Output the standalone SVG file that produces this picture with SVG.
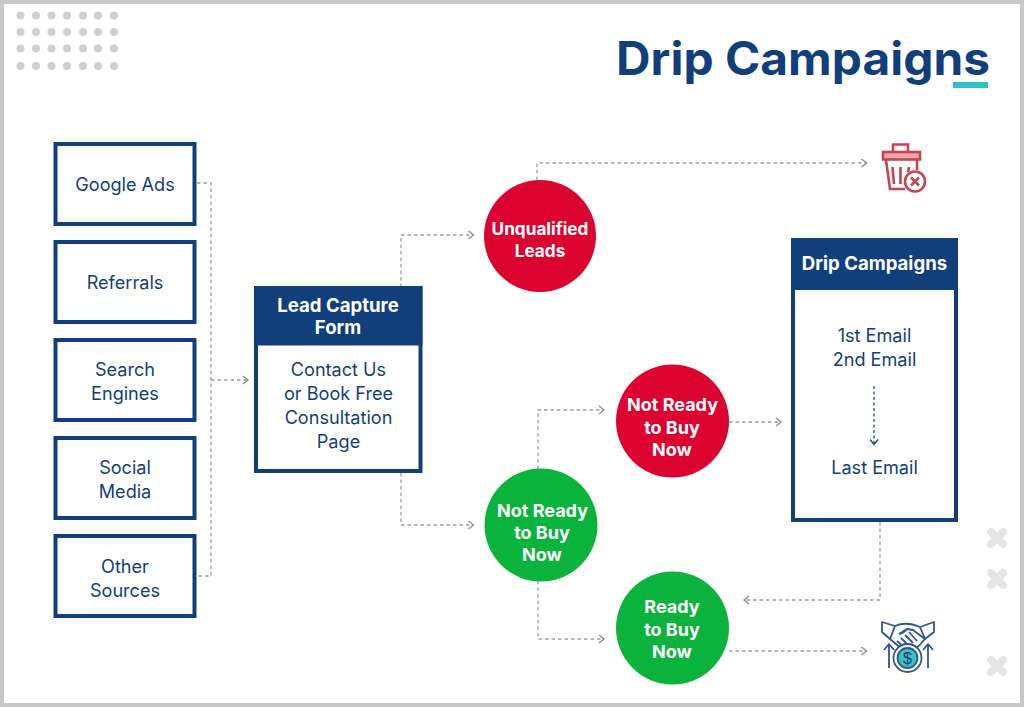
<svg xmlns="http://www.w3.org/2000/svg" width="1024" height="707" viewBox="0 0 1024 707">
<style>
text{font-family:"Inter","Liberation Sans",sans-serif;text-anchor:middle}
.b{fill:#fff;stroke:#113f7c;stroke-width:4}
.h{fill:#113f7c}
.t{font-size:18.1px;fill:#113f7c;font-weight:400}
.w{font-size:18px;fill:#fff;font-weight:700}
.k{font-size:18.600px;fill:#fff;font-weight:700}
.c{fill:none;stroke:#9d9d9d;stroke-width:1.3;stroke-dasharray:3.5 3}
.d{fill:#cfcfcf}
.x{stroke:#e3e5e6;stroke-width:8;stroke-linecap:round}
.r{fill:#dd0330}
.g{fill:#0ab33c}
.i{fill:none;stroke:#c5444f;stroke-width:2.600}
.m{fill:none;stroke:#2d5793;stroke-width:1.800;stroke-linejoin:round}
</style>
<defs>
<marker id="a" markerWidth="10" markerHeight="12" refX="6" refY="5" orient="auto" markerUnits="userSpaceOnUse"><path d="M1 1L6 5L1 9" fill="none" stroke="#8d8d8d" stroke-width="1.4"/></marker>
<marker id="n" markerWidth="10" markerHeight="10" refX="4.5" refY="6" orient="auto-start-reverse" markerUnits="userSpaceOnUse"><path d="M1 1L6 5L1 9" fill="none" stroke="#113f7c" stroke-width="1.3" transform="translate(0 1)"/></marker>
</defs>
<rect x="2" y="2" width="1020" height="703" fill="#fff" stroke="#c8c8c8" stroke-width="4"/>
<g id="dots" class="d">
<circle cx="20.5" cy="15.5" r="4"/><circle cx="36" cy="15.5" r="4"/><circle cx="51.5" cy="15.5" r="4"/><circle cx="67" cy="15.5" r="4"/><circle cx="83" cy="15.5" r="4"/><circle cx="98" cy="15.5" r="4"/><circle cx="114" cy="15.5" r="4"/>
<circle cx="20.5" cy="32" r="4"/><circle cx="36" cy="32" r="4"/><circle cx="51.5" cy="32" r="4"/><circle cx="67" cy="32" r="4"/><circle cx="83" cy="32" r="4"/><circle cx="98" cy="32" r="4"/><circle cx="114" cy="32" r="4"/>
<circle cx="20.5" cy="48.5" r="4"/><circle cx="36" cy="48.5" r="4"/><circle cx="51.5" cy="48.5" r="4"/><circle cx="67" cy="48.5" r="4"/><circle cx="83" cy="48.5" r="4"/><circle cx="98" cy="48.5" r="4"/><circle cx="114" cy="48.5" r="4"/>
<circle cx="20.5" cy="66" r="4"/><circle cx="36" cy="66" r="4"/><circle cx="51.5" cy="66" r="4"/><circle cx="67" cy="66" r="4"/><circle cx="83" cy="66" r="4"/><circle cx="98" cy="66" r="4"/><circle cx="114" cy="66" r="4"/>
</g>
<g id="crosses" class="x">
<path d="M991 532L1003 544M1003 532L991 544"/><path d="M991 573L1003 585M1003 573L991 585"/><path d="M991 660L1003 672M1003 660L991 672"/>
</g>
<g id="title">
<text x="803" y="75" font-size="46" font-weight="700" fill="#113f7c" textLength="374" lengthAdjust="spacingAndGlyphs">Drip Campaigns</text>
<rect x="953" y="82" width="35" height="6" fill="#2fc0c6"/>
</g>
<g id="connectors">
<path class="c" d="M197 183H211V576H197"/>
<path class="c" d="M211 380H248" marker-end="url(#a)"/>
<path class="c" d="M401 287V235H473.500" marker-end="url(#a)"/>
<path class="c" d="M401 473V525H473.500" marker-end="url(#a)"/>
<path class="c" d="M537 180V163H866.500" marker-end="url(#a)"/>
<path class="c" d="M538 469V410H604" marker-end="url(#a)"/>
<path class="c" d="M538 581V639H604" marker-end="url(#a)"/>
<path class="c" d="M729 422H781" marker-end="url(#a)"/>
<path class="c" d="M880 522V600H744" marker-end="url(#a)"/>
<path class="c" d="M729 651H866.500" marker-end="url(#a)"/>
</g>
<g id="google-ads"><rect class="b" x="55.500" y="144" width="139" height="80"/><text class="t" x="125" y="191">Google Ads</text></g>
<g id="referrals"><rect class="b" x="55.500" y="242" width="139" height="80"/><text class="t" x="125" y="289">Referrals</text></g>
<g id="search-engines"><rect class="b" x="55.500" y="340" width="139" height="80"/><text class="t" x="125" y="376">Search</text><text class="t" x="125" y="400">Engines</text></g>
<g id="social-media"><rect class="b" x="55.500" y="438" width="139" height="80"/><text class="t" x="125" y="474">Social</text><text class="t" x="125" y="498">Media</text></g>
<g id="other-sources"><rect class="b" x="55.500" y="536" width="139" height="80"/><text class="t" x="125" y="573">Other</text><text class="t" x="125" y="597">Sources</text></g>
<g id="lead-capture-form"><rect class="b" x="256" y="288" width="164.500" height="183"/><rect class="h" x="254.500" y="286.500" width="168" height="59"/>
<text class="k" x="338" y="312">Lead Capture</text><text class="k" x="338" y="334">Form</text>
<text class="t" x="338.500" y="376">Contact Us</text><text class="t" x="338.500" y="400">or Book Free</text><text class="t" x="338.500" y="424">Consultation</text><text class="t" x="338.500" y="448">Page</text></g>
<g id="unqualified-leads"><circle class="r" cx="540" cy="236" r="56"/><text class="w" x="540" y="235" style="font-size:17.200px">Unqualified</text><text class="w" x="540" y="257" style="font-size:17.200px">Leads</text></g>
<g id="not-ready-lower"><circle class="g" cx="541" cy="525" r="56.500"/><text class="w" x="542.500" y="517">Not Ready</text><text class="w" x="542" y="539">to Buy</text><text class="w" x="542" y="561">Now</text></g>
<g id="not-ready-upper"><circle class="r" cx="672.500" cy="421" r="56.500"/><text class="w" x="672.500" y="411">Not Ready</text><text class="w" x="672" y="434">to Buy</text><text class="w" x="672" y="456">Now</text></g>
<g id="ready"><circle class="g" cx="672.500" cy="628" r="56.500"/><text class="w" x="672" y="613">Ready</text><text class="w" x="672" y="636">to Buy</text><text class="w" x="672" y="658">Now</text></g>
<g id="drip-campaigns"><rect class="b" x="793" y="240" width="163" height="280"/><rect class="h" x="791" y="238" width="167" height="52"/>
<text class="k" x="874.500" y="270">Drip Campaigns</text>
<text class="t" x="874.500" y="342">1st Email</text><text class="t" x="874.500" y="366">2nd Email</text>
<path d="M874 386V443" fill="none" stroke="#113f7c" stroke-width="1.200" stroke-dasharray="3 2.500" marker-end="url(#n)"/>
<text class="t" x="874.500" y="474">Last Email</text></g>
<g id="trash-icon" class="i">
<path d="M893 151V144.500H908V151"/><rect x="883" y="152" width="37" height="7.500" fill="#eca7ad"/>
<path d="M886 160L890 189H905M917 160V170"/><path d="M892.500 167L894 184M900.500 167V184M909 167L908 172"/>
<circle cx="915" cy="181.500" r="10"/><path d="M911 177.500L919 185.500M919 177.500L911 185.500"/>
</g>
<g id="handshake-icon" class="m">
<path d="M882 622L895 626L890 639L882 632Z"/><path d="M934 622L920 627L925 639L934 632Z"/>
<path d="M895 626Q906 621 920 627M890 639L903 650M925 639L915 650"/>
<path d="M899 634L907 629L913 630L925 639M907 629Q903 634 899 634M897 641L905 648M901 638L909 646M905 635L913 643M909 632L917 641"/>
<circle cx="907.500" cy="658" r="14" fill="#fff"/><circle cx="907.500" cy="658" r="10" fill="#3fbfc0"/>
<text x="907.500" y="664" font-size="16" fill="#113f7c" stroke="none" style="font-family:'Liberation Sans',sans-serif">$</text>
<path d="M889 668V644M884 650L889 644L894 650M928 668V644M923 650L928 644L933 650"/>
</g>
</svg>
